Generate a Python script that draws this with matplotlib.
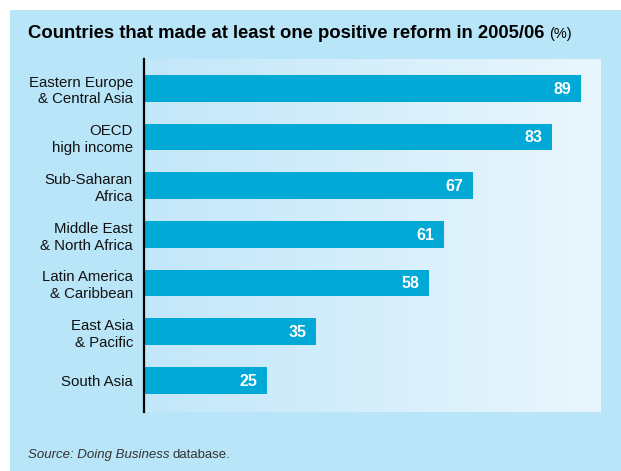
import numpy as np
import matplotlib.pyplot as plt
from matplotlib.patches import Rectangle
from matplotlib.colors import LinearSegmentedColormap

regions = ['Eastern Europe\n& Central Asia', 'OECD\nhigh income', 'Sub-Saharan\nAfrica',
           'Middle East\n& North Africa', 'Latin America\n& Caribbean', 'East Asia\n& Pacific',
           'South Asia']
values = [89, 83, 67, 61, 58, 35, 25]

W, H = 621, 471
plt.rcParams['font.family'] = ['Liberation Sans', 'DejaVu Sans']

fig = plt.figure(figsize=(W / 100, H / 100), dpi=100)
fig.patch.set_facecolor('white')
# light blue panel
fig.patches.append(Rectangle((10 / W, 0), 1 - 10 / W, 1 - 10 / H, transform=fig.transFigure,
                             facecolor='#b9e5f8', edgecolor='none', zorder=-5))

ax = fig.add_axes([144 / W, 1 - 412 / H, (601 - 144) / W, (412 - 59) / H])
ax.set_zorder(2)
ax.set_xlim(0, 93)
ax.set_ylim(6.65, -0.6)

# background gradient
grad = np.linspace(0, 1, 256).reshape(1, -1)
cmap = LinearSegmentedColormap.from_list('bg', ['#c2e7f9', '#eaf6fd'])
ax.imshow(grad, extent=[0, 93, 6.65, -0.6], aspect='auto', cmap=cmap, zorder=0)

y = np.arange(len(values))
ax.barh(y, values, height=0.55, color='#00a9d6', zorder=2)
for yi, v in zip(y, values):
    ax.text(v - 2.0, yi + 0.02, str(v), color='white', fontweight='bold', fontsize=11.5,
            ha='right', va='center', zorder=3)

ax.set_yticks(y)
ax.set_yticklabels(regions, fontsize=10.8, linespacing=1.25, color='#111111')
ax.tick_params(axis='y', length=0, pad=8)
ax.set_xticks([])
for s in ['top', 'right', 'bottom']:
    ax.spines[s].set_visible(False)
ax.spines['left'].set_linewidth(1.6)
ax.spines['left'].set_color('black')

renderer = fig.canvas.get_renderer()

title = fig.text(28 / W, 1 - 33 / H, 'Countries that made at least one positive reform in 2005/06',
                 fontsize=13, fontweight='bold', va='center', ha='left')
tw = title.get_window_extent(renderer).width
title.set_fontsize(13 * 518 / tw)
bb = title.get_window_extent(renderer)
fig.text((bb.x1 + 5) / W, 1 - 34 / H, '(%)', fontsize=10.5, va='center', ha='left')

src = fig.text(28 / W, 1 - 455 / H, 'Source: Doing Business', fontsize=9.5, style='italic',
               va='center', ha='left', color='#333333')
sb = src.get_window_extent(renderer)
fig.text((sb.x1 + 3) / W, 1 - 455 / H, 'database.', fontsize=9.5, va='center', ha='left',
         color='#333333')

fig.savefig('out.png', dpi=100)
